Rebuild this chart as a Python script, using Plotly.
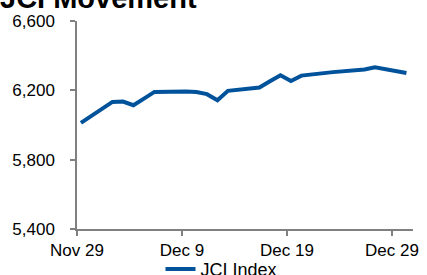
import plotly.graph_objects as go
import pandas as pd

dates = ["2019-11-29", "2019-12-02", "2019-12-03", "2019-12-04", "2019-12-05", "2019-12-06",
         "2019-12-09", "2019-12-10", "2019-12-11", "2019-12-12", "2019-12-13",
         "2019-12-16", "2019-12-17", "2019-12-18", "2019-12-19", "2019-12-20",
         "2019-12-23", "2019-12-26", "2019-12-27", "2019-12-30"]
jci = [6012, 6133, 6135, 6114, 6152, 6191,
       6193, 6190, 6178, 6143, 6197,
       6216, 6252, 6287, 6254, 6285,
       6305, 6320, 6333, 6300]

tick_labels = ["Nov 29", "Dec 9", "Dec 19", "Dec 29"]
tick_dates = ["2019-11-29", "2019-12-09", "2019-12-19", "2019-12-29"]
y_ticks = [5400, 5800, 6200, 6600]

shift = pd.Timedelta(hours=9)
tickvals = [pd.Timestamp(d) - shift for d in tick_dates]
x0 = pd.Timestamp("2019-11-29") - shift
x1 = x0 + pd.Timedelta(days=32)

FONT = "Liberation Sans, Arial, sans-serif"
AX = "#808080"

fig = go.Figure()
fig.add_trace(go.Scatter(
    x=pd.to_datetime(dates), y=jci, mode="lines", name="JCI Index",
    line=dict(color="#00529B", width=4),
))

fig.update_layout(
    width=427, height=275,
    margin=dict(l=77, r=14, t=21, b=46, autoexpand=False),
    paper_bgcolor="white", plot_bgcolor="white",
    font=dict(family=FONT, size=17, color="black"),
    showlegend=True,
    legend=dict(orientation="h", x=0.43, xanchor="center", y=-0.105, yanchor="top",
                font=dict(size=18), bgcolor="rgba(0,0,0,0)", itemwidth=30),
)
fig.update_xaxes(
    type="date", range=[x0, x1], tickvals=tickvals, ticktext=tick_labels,
    showline=True, linecolor=AX, linewidth=1.5, showgrid=False, zeroline=False,
    ticks="outside", ticklen=5, tickcolor=AX, tickwidth=1.5, automargin=False,
)
fig.update_yaxes(
    range=[5400, 6600], tickvals=y_ticks, tickformat=",d",
    showline=True, linecolor=AX, linewidth=1.5, showgrid=False, zeroline=False,
    ticks="outside", ticklen=5, tickcolor=AX, tickwidth=1.5, ticklabelstandoff=12,
    automargin=False,
)
fig.add_annotation(
    text="<b>JCI Movement</b>", xref="paper", yref="paper", x=-0.235, xanchor="left",
    y=1.0, yanchor="bottom", yshift=5, showarrow=False, font=dict(size=29, color="black"),
)

fig.write_html("out.html", config={"displayModeBar": False},
               post_script="document.body.style.margin='0';document.body.style.overflow='hidden';")
